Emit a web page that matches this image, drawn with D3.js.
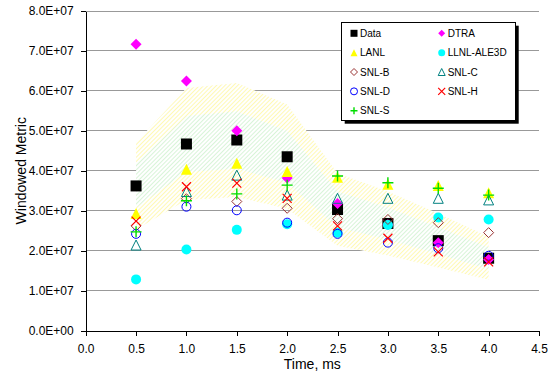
<!DOCTYPE html>
<html>
<head>
<meta charset="utf-8">
<script src="https://cdn.jsdelivr.net/npm/d3@7"></script>
<style>
  html, body { margin: 0; padding: 0; background: #fff; }
  svg { display: block; font-family: "Liberation Sans", Arial, sans-serif; }
</style>
</head>
<body>
<svg id="chart" width="550" height="385"></svg>
<script>
// Sample times (ms)
const times = [0.5, 1.0, 1.5, 2.0, 2.5, 3.0, 3.5, 4.0];

// Measured values and model results
const dataVals = [3.62e7, 4.67e7, 4.77e7, 4.35e7, 3.03e7, 2.68e7, 2.25e7, 1.81e7];
const dtraVals = [7.17e7, 6.25e7, 5.00e7, 3.82e7, 3.18e7, 2.65e7, 2.20e7, 1.78e7];
const lanlVals = [2.93e7, 4.04e7, 4.19e7, 3.98e7, 3.84e7, 3.66e7, 3.63e7, 3.45e7];
const llnlVals = [1.28e7, 2.03e7, 2.52e7, 2.66e7, 2.45e7, 2.64e7, 2.83e7, 2.78e7];
const snlBVals = [2.62e7, 3.30e7, 3.23e7, 3.06e7, 2.80e7, 2.78e7, 2.70e7, 2.45e7];
const snlCVals = [2.14e7, 3.48e7, 3.89e7, 3.39e7, 3.31e7, 3.31e7, 3.31e7, 3.27e7];
const snlDVals = [2.42e7, 3.10e7, 3.01e7, 2.70e7, 2.42e7, 2.20e7, 2.06e7, 1.87e7];
const snlHVals = [2.74e7, 3.60e7, 3.69e7, 3.31e7, 2.62e7, 2.31e7, 1.97e7, 1.72e7];
const snlSVals = [2.47e7, 3.25e7, 3.42e7, 3.64e7, 3.87e7, 3.70e7, 3.56e7, 3.39e7];

// Uncertainty bands around the data
const outerHi = [4.71e7, 6.07e7, 6.20e7, 5.66e7, 3.94e7, 3.48e7, 2.93e7, 2.35e7];
const innerHi = [4.16e7, 5.37e7, 5.49e7, 5.00e7, 3.48e7, 3.08e7, 2.59e7, 2.08e7];
const innerLo = [3.08e7, 3.97e7, 4.05e7, 3.70e7, 2.58e7, 2.28e7, 1.91e7, 1.54e7];
const outerLo = [2.53e7, 3.27e7, 3.34e7, 3.05e7, 2.12e7, 1.88e7, 1.58e7, 1.27e7];

// Axis ticks
const xTicks = [0, 0.5, 1, 1.5, 2, 2.5, 3, 3.5, 4, 4.5];
const yTicks = [0, 1e7, 2e7, 3e7, 4e7, 5e7, 6e7, 7e7, 8e7];

const seriesNames = ["Data", "DTRA", "LANL", "LLNL-ALE3D", "SNL-B", "SNL-C", "SNL-D", "SNL-H", "SNL-S"];
const seriesValues = [dataVals, dtraVals, lanlVals, llnlVals, snlBVals, snlCVals, snlDVals, snlHVals, snlSVals];

const markerStyle = {
  "Data":       { shape: "square",   color: "#000000", filled: true },
  "DTRA":       { shape: "diamond",  color: "#ff00ff", filled: true },
  "LANL":       { shape: "triangle", color: "#ffff00", filled: true },
  "LLNL-ALE3D": { shape: "circle",   color: "#00ffff", filled: true },
  "SNL-B":      { shape: "diamond",  color: "#993333", filled: false },
  "SNL-C":      { shape: "triangle", color: "#008080", filled: false },
  "SNL-D":      { shape: "circle",   color: "#0000ff", filled: false },
  "SNL-H":      { shape: "x",        color: "#ff0000", filled: false },
  "SNL-S":      { shape: "plus",     color: "#00dd00", filled: false }
};

const FONT = "'Liberation Sans', Arial, sans-serif";
const svg = d3.select("#chart");
const plot = { left: 85.7, right: 539, top: 11, bottom: 330.5 };

const x = d3.scaleLinear().domain([0, 4.5]).range([plot.left, plot.right]);
const y = d3.scaleLinear().domain([0, 8e7]).range([plot.bottom, plot.top]);

// Hatch patterns for the bands
const defs = svg.append("defs");
function hatch(id, color) {
  const p = defs.append("pattern")
    .attr("id", id)
    .attr("patternUnits", "userSpaceOnUse")
    .attr("width", 3).attr("height", 3)
    .attr("patternTransform", "rotate(45)");
  p.append("rect").attr("width", 3).attr("height", 3).attr("fill", "#ffffff");
  p.append("rect").attr("width", 1).attr("height", 3).attr("fill", color);
}
hatch("hatchYellow", "#fff9b4");
hatch("hatchGreen", "#d8f4d8");

// Gridlines
svg.append("g")
  .selectAll("line")
  .data(yTicks.filter(d => d > 0))
  .join("line")
  .attr("x1", plot.left).attr("x2", plot.right)
  .attr("y1", d => y(d)).attr("y2", d => y(d))
  .attr("stroke", "#999999")
  .attr("stroke-width", 1)
  .attr("shape-rendering", "crispEdges");

// Bands
const bandArea = (hi, lo) => d3.area()
  .x((d, i) => x(times[i]))
  .y0((d, i) => y(lo[i]))
  .y1((d, i) => y(hi[i]))(times);

svg.append("path").attr("d", bandArea(outerHi, outerLo)).attr("fill", "url(#hatchYellow)");
svg.append("path").attr("d", bandArea(innerHi, innerLo)).attr("fill", "url(#hatchGreen)");

// Axes
const fmtY = v => v === 0 ? "0.0E+00" : (v / 1e7).toFixed(1) + "E+07";

const yAxis = svg.append("g")
  .attr("transform", `translate(${plot.left},0)`)
  .call(d3.axisLeft(y).tickValues(yTicks).tickFormat(fmtY).tickSize(5).tickPadding(7).tickSizeOuter(0));
const xAxis = svg.append("g")
  .attr("transform", `translate(0,${plot.bottom})`)
  .call(d3.axisBottom(x).tickValues(xTicks).tickFormat(d3.format(".1f")).tickSize(5).tickPadding(8.5).tickSizeOuter(0));

[yAxis, xAxis].forEach(a => {
  a.attr("font-family", FONT).attr("font-size", 12);
  a.selectAll("path, line").attr("stroke", "#000").attr("shape-rendering", "crispEdges");
  a.selectAll("text").attr("fill", "#000");
});

// Axis titles
svg.append("text")
  .attr("x", (plot.left + plot.right) / 2).attr("y", 368.5)
  .attr("text-anchor", "middle").attr("font-size", 14).attr("font-family", FONT)
  .text("Time, ms");
svg.append("text")
  .attr("transform", `translate(25.5,${(plot.top + plot.bottom) / 2}) rotate(-90)`)
  .attr("text-anchor", "middle").attr("font-size", 14).attr("font-family", FONT)
  .text("Windowed Metric");

// Marker drawing
function drawMarker(g, style, cx, cy, s) {
  const h = s / 2;
  const c = style.color;
  const fill = style.filled ? c : "none";
  const stroke = style.filled ? "none" : c;
  switch (style.shape) {
    case "square":
      g.append("rect").attr("x", cx - h).attr("y", cy - h).attr("width", s).attr("height", s).attr("fill", fill);
      break;
    case "diamond":
      g.append("path")
        .attr("d", `M${cx},${cy - h}L${cx + h},${cy}L${cx},${cy + h}L${cx - h},${cy}Z`)
        .attr("fill", fill).attr("stroke", stroke).attr("stroke-width", 1);
      break;
    case "triangle":
      g.append("path")
        .attr("d", `M${cx},${cy - h}L${cx + h},${cy + h}L${cx - h},${cy + h}Z`)
        .attr("fill", fill).attr("stroke", stroke).attr("stroke-width", 1);
      break;
    case "circle":
      g.append("circle").attr("cx", cx).attr("cy", cy).attr("r", h)
        .attr("fill", fill).attr("stroke", stroke).attr("stroke-width", 1);
      break;
    case "x":
      g.append("path")
        .attr("d", `M${cx - h},${cy - h}L${cx + h},${cy + h}M${cx + h},${cy - h}L${cx - h},${cy + h}`)
        .attr("stroke", c).attr("stroke-width", 1.2).attr("fill", "none");
      break;
    case "plus":
      g.append("path")
        .attr("d", `M${cx - h},${cy}L${cx + h},${cy}M${cx},${cy - h}L${cx},${cy + h}`)
        .attr("stroke", c).attr("stroke-width", 1.4).attr("fill", "none");
      break;
  }
}

const plotSize = {
  "square": 11, "diamond": 11, "triangle": 11, "circle": 10, "x": 9, "plus": 11
};
const openSize = { "diamond": 10, "triangle": 10, "circle": 9 };

const marks = svg.append("g");
seriesNames.forEach((name, si) => {
  const st = markerStyle[name];
  const g = marks.append("g").attr("class", "series");
  const size = (!st.filled && openSize[st.shape]) ? openSize[st.shape] : plotSize[st.shape];
  seriesValues[si].forEach((v, i) => {
    drawMarker(g, st, x(times[i]), y(v), size);
  });
});

// Legend
const lg = { x: 341.7, y: 22.7, w: 174, h: 98 };
svg.append("rect").attr("x", lg.x + 3).attr("y", lg.y + 3).attr("width", lg.w).attr("height", lg.h).attr("fill", "#000");
svg.append("rect").attr("x", lg.x).attr("y", lg.y).attr("width", lg.w).attr("height", lg.h)
  .attr("fill", "#fff").attr("stroke", "#000").attr("stroke-width", 1).attr("shape-rendering", "crispEdges");

const legend = svg.append("g").attr("font-family", FONT).attr("font-size", 10);
const colX = [354, 441.7];
const rowY0 = 33.3, rowStep = 19.35;
seriesNames.forEach((name, i) => {
  const col = i % 2, row = Math.floor(i / 2);
  const cx = colX[col], cy = rowY0 + row * rowStep;
  const st = markerStyle[name];
  drawMarker(legend, st, cx, cy, 7);
  legend.append("text")
    .attr("x", cx + 6).attr("y", cy).attr("dy", "0.35em")
    .attr("fill", "#000")
    .text(name);
});
</script>
</body>
</html>
